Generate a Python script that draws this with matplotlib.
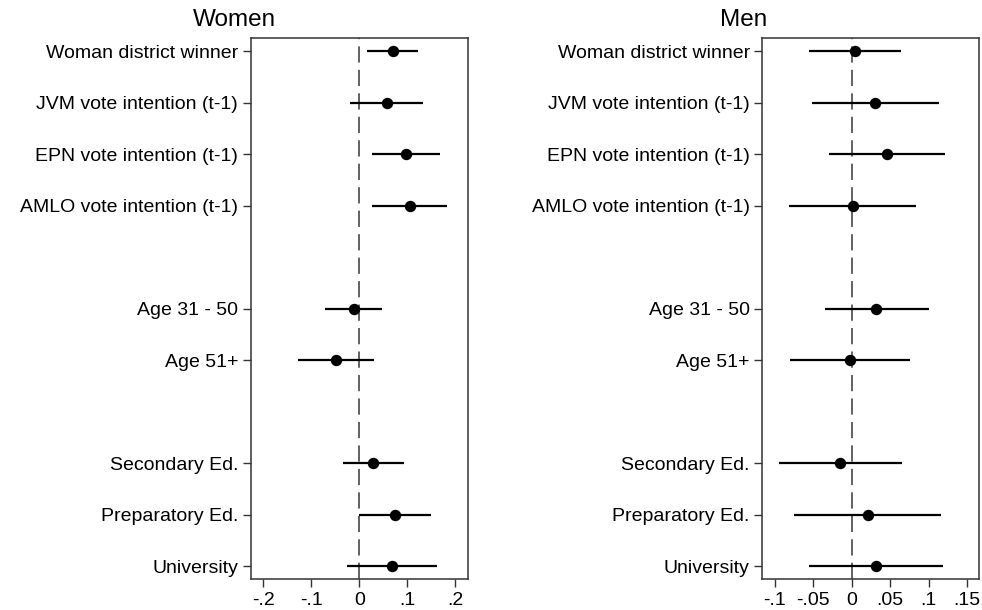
import matplotlib
matplotlib.use("Agg")
import matplotlib.pyplot as plt
import numpy as np

plt.rcParams['font.family'] = ['Liberation Sans', 'DejaVu Sans']

labels = ['Woman district winner', 'JVM vote intention (t-1)', 'EPN vote intention (t-1)',
          'AMLO vote intention (t-1)', 'Age 31 - 50', 'Age 51+',
          'Secondary Ed.', 'Preparatory Ed.', 'University']
group_sizes = [4, 2, 3]

women_coef = [0.070, 0.058, 0.097, 0.105, -0.012, -0.049, 0.028, 0.075, 0.068]
women_lo = [0.017, -0.019, 0.027, 0.027, -0.071, -0.128, -0.034, 0.000, -0.025]
women_hi = [0.122, 0.133, 0.169, 0.182, 0.047, 0.031, 0.093, 0.149, 0.161]

men_coef = [0.004, 0.031, 0.046, 0.002, 0.032, -0.002, -0.015, 0.021, 0.032]
men_lo = [-0.056, -0.052, -0.029, -0.081, -0.035, -0.080, -0.094, -0.075, -0.056]
men_hi = [0.064, 0.113, 0.122, 0.084, 0.100, 0.076, 0.065, 0.116, 0.119]

women_ticks = [-0.2, -0.1, 0, 0.1, 0.2]
women_ticklabels = ['-.2', '-.1', '0', '.1', '.2']
men_ticks = [-0.1, -0.05, 0, 0.05, 0.1, 0.15]
men_ticklabels = ['-.1', '-.05', '0', '.05', '.1', '.15']

# y positions: one blank row between groups
pos = []
start = 0
for n in group_sizes:
    pos += list(range(start, start + n))
    start += n + 1
pos = np.array(pos)

fig = plt.figure(figsize=(9.82, 6.10), dpi=100)
ax1 = fig.add_axes([0.2553, 0.0508, 0.2216, 0.8864])
ax2 = fig.add_axes([0.7763, 0.0508, 0.2210, 0.8864])


def coefplot(ax, coef, lo, hi, ticks, ticklabels, xlim):
    ax.axvline(0, color='#555555', lw=1.3, ls=(0, (9, 4)), zorder=1)
    ax.hlines(pos, lo, hi, color='black', lw=1.6, zorder=2)
    ax.plot(coef, pos, 'o', color='black', markersize=7.2, zorder=3)
    ax.set_xlim(*xlim)
    ax.set_ylim(10.25, -0.25)
    ax.set_yticks(pos)
    ax.set_yticklabels(labels)
    ax.set_xticks(ticks)
    ax.set_xticklabels(ticklabels)
    ax.tick_params(axis='both', labelsize=14, length=6, width=1, color='#333333', pad=3)
    for s in ax.spines.values():
        s.set_color('#333333')
        s.set_linewidth(1.1)


coefplot(ax1, women_coef, women_lo, women_hi, women_ticks, women_ticklabels, (-0.226, 0.227))
coefplot(ax2, men_coef, men_lo, men_hi, men_ticks, men_ticklabels, (-0.116, 0.166))

fig.text(234 / 982, 1 - 26 / 610, 'Women', fontsize=17.5, ha='center', va='baseline')
fig.text(744 / 982, 1 - 26 / 610, 'Men', fontsize=17.5, ha='center', va='baseline')

plt.savefig('out.png', dpi=100)
